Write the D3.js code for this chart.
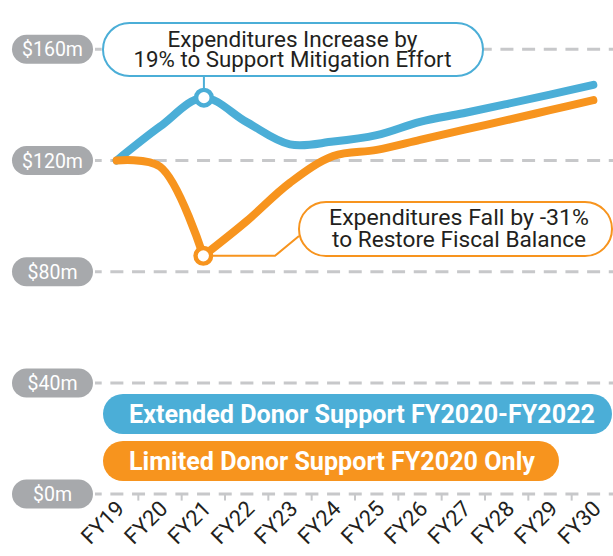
<!DOCTYPE html>
<html><head><meta charset="utf-8">
<script src="https://cdn.jsdelivr.net/npm/d3@7"></script>
<style>body{margin:0;background:#fff}svg{display:block}</style>
</head><body><svg id="c" width="613" height="556"></svg>
<script>
const years = ["FY19","FY20","FY21","FY22","FY23","FY24","FY25","FY26","FY27","FY28","FY29","FY30"];
const extended = [120, 132.2, 142.6, 133.8, 125.8, 126.8, 129.1, 133.9, 137.0, 140.3, 143.7, 147.2];
const limited  = [120, 117.8, 85.7, 98.2, 112.0, 121.6, 123.8, 127.4, 131.0, 134.5, 138.1, 141.7];
const yTicks = [0, 40, 80, 120, 160];
const yTickLabels = ["$0m", "$40m", "$80m", "$120m", "$160m"];
const legendLabels = ["Extended Donor Support FY2020-FY2022", "Limited Donor Support FY2020 Only"];
const noteUp = ["Expenditures Increase by", "19% to Support Mitigation Effort"];
const noteDown = ["Expenditures Fall by -31%", "to Restore Fiscal Balance"];

const W = 613, H = 556;
const BLUE = "#4baed7", ORANGE = "#f7941e", GRAY = "#a7a9ac", GRID = "#c7c8ca", INK = "#231f20";
const FONT = "Roboto, 'DejaVu Sans', sans-serif";
const svg = d3.select("#c").style("font-family", FONT);

const x = d3.scaleBand().domain(years).range([95, 615]);
const xc = d => x(d) + x.bandwidth() / 2;
const y = d3.scaleLinear().domain([0, 160]).range([494.1, 49.3]);

// gridlines
svg.append("g").selectAll("line").data(yTicks).join("line")
  .attr("x1", 95).attr("x2", W).attr("y1", d => y(d)).attr("y2", d => y(d))
  .attr("stroke", GRID).attr("stroke-width", 3)
  .attr("stroke-dasharray", "13,8.67").attr("stroke-dashoffset", 6.3);

// x ticks at band boundaries
svg.append("g").selectAll("line").data(years.slice(1)).join("line")
  .attr("x1", d => x(d)).attr("x2", d => x(d))
  .attr("y1", y(0)).attr("y2", y(0) + 6.5)
  .attr("stroke", GRID).attr("stroke-width", 2);

// y tick pills
const yp = svg.append("g").selectAll("g").data(yTicks).join("g")
  .attr("transform", d => `translate(0,${y(d)})`);
yp.append("rect").attr("x", 12).attr("y", -14.5).attr("width", 81).attr("height", 29)
  .attr("rx", 14.5).attr("fill", GRAY);
yp.append("text").attr("x", 52.5).attr("y", 7).attr("text-anchor", "middle")
  .attr("fill", "#fff").attr("font-size", 19.5).text((d, i) => yTickLabels[i]);

// x labels
svg.append("g").selectAll("text").data(years).join("text")
  .attr("transform", d => `translate(${xc(d) + 9},${510}) rotate(-45)`)
  .attr("text-anchor", "end").attr("fill", INK).attr("font-size", 22).text(d => d);

// lines
const lineGen = d3.line().x(d => xc(years[d[0]])).y(d => y(d[1])).curve(d3.curveCatmullRom);
const pBlue = svg.append("path").attr("d", lineGen(extended.map((v, i) => [i, v]))).attr("fill", "none")
  .attr("stroke", BLUE).attr("stroke-width", 8).attr("stroke-linecap", "round").attr("stroke-linejoin", "round");
// orange: sharp turn at the FY21 low point
const iLow = limited.indexOf(d3.min(limited));
const oPts = limited.map((v, i) => [i, v]);
const pOrange = svg.append("path")
  .attr("d", lineGen(oPts.slice(0, iLow + 1)) + lineGen(oPts.slice(iLow)))
  .attr("fill", "none")
  .attr("stroke", ORANGE).attr("stroke-width", 8).attr("stroke-linecap", "round").attr("stroke-linejoin", "round");

function extremum(path, x0, x1, wantMin) {
  const node = path.node(), L = node.getTotalLength();
  let best = null;
  for (let s = 0; s <= L; s += 0.5) {
    const p = node.getPointAtLength(s);
    if (p.x < x0 || p.x > x1) continue;
    if (!best || (wantMin ? p.y < best.y : p.y > best.y)) best = p;
  }
  return best;
}
const peak = extremum(pBlue, xc("FY20"), xc("FY22"), true);
const trough = {x: xc(years[iLow]), y: y(limited[iLow])};

// callout: blue
const boxUp = {x: 103, y: 23, w: 380, h: 53};
svg.append("line").attr("x1", peak.x).attr("x2", peak.x).attr("y1", boxUp.y + boxUp.h).attr("y2", peak.y)
  .attr("stroke", BLUE).attr("stroke-width", 2);
svg.append("rect").attr("x", boxUp.x).attr("y", boxUp.y).attr("width", boxUp.w).attr("height", boxUp.h)
  .attr("rx", boxUp.h / 2).attr("fill", "#fff").attr("stroke", BLUE).attr("stroke-width", 2);
const upW = [250, 318];
svg.append("g").selectAll("text").data(noteUp).join("text")
  .attr("x", 292.5).attr("y", (d, i) => 46.5 + i * 20.5).attr("text-anchor", "middle")
  .attr("font-size", 21.5).attr("fill", INK)
  .attr("textLength", (d, i) => upW[i]).attr("lengthAdjust", "spacingAndGlyphs").text(d => d);

// callout: orange
const boxDn = {x: 299, y: 202, w: 313, h: 54};
svg.append("polyline")
  .attr("points", `${trough.x},${trough.y} 275,${trough.y} 299,236`)
  .attr("fill", "none").attr("stroke", ORANGE).attr("stroke-width", 2);
svg.append("rect").attr("x", boxDn.x).attr("y", boxDn.y).attr("width", boxDn.w).attr("height", boxDn.h)
  .attr("rx", boxDn.h / 2).attr("fill", "#fff").attr("stroke", ORANGE).attr("stroke-width", 2);
const dnW = [260, 254];
svg.append("g").selectAll("text").data(noteDown).join("text")
  .attr("x", 459).attr("y", (d, i) => 225 + i * 21.5).attr("text-anchor", "middle")
  .attr("font-size", 21.5).attr("fill", INK)
  .attr("textLength", (d, i) => dnW[i]).attr("lengthAdjust", "spacingAndGlyphs").text(d => d);

// markers
[[peak, BLUE], [trough, ORANGE]].forEach(([p, c]) => {
  svg.append("circle").attr("cx", p.x).attr("cy", p.y).attr("r", 7.8)
    .attr("fill", "#fff").attr("stroke", c).attr("stroke-width", 4.4);
});

// legend
const legColors = [BLUE, ORANGE];
const legBox = [{y: 394, w: 509}, {y: 441, w: 456}];
const legW = [466, 406];
const lg = svg.append("g").selectAll("g").data(legendLabels).join("g");
lg.append("rect").attr("x", 103).attr("y", (d, i) => legBox[i].y).attr("width", (d, i) => legBox[i].w)
  .attr("height", 40).attr("rx", 20).attr("fill", (d, i) => legColors[i]);
lg.append("text").attr("x", 129).attr("y", (d, i) => legBox[i].y + 28.5)
  .attr("font-size", 26).attr("font-weight", "bold").attr("fill", "#fff")
  .attr("textLength", (d, i) => legW[i]).attr("lengthAdjust", "spacingAndGlyphs").text(d => d);
</script></body></html>
